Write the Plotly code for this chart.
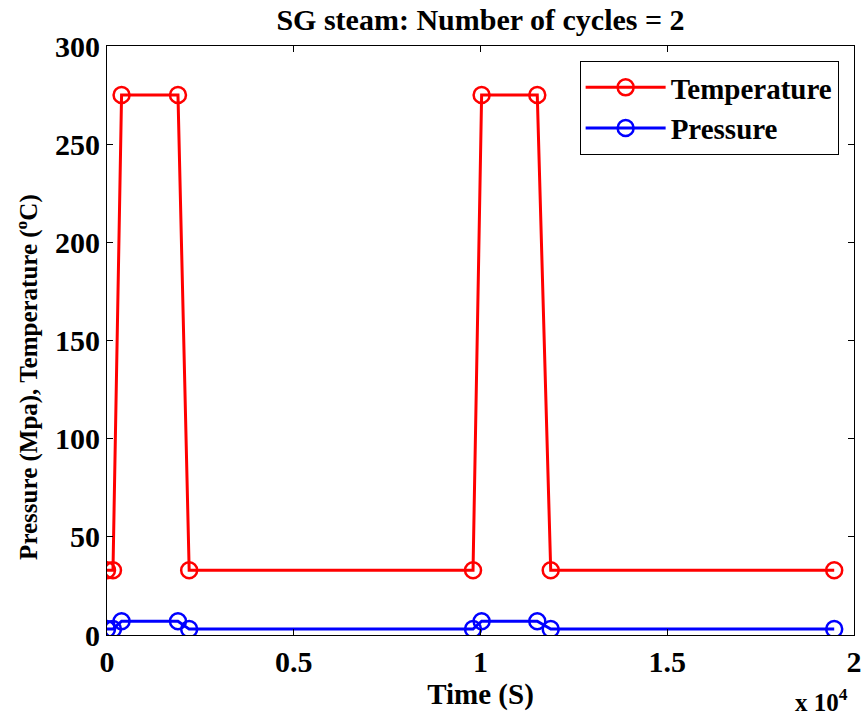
import plotly.graph_objects as go

time_s = [0, 160, 390, 1900, 2200, 9800, 10030, 11520, 11880, 19470]
temperature = [33, 33, 275, 275, 33, 33, 275, 275, 33, 33]
pressure = [3, 3, 7, 7, 3, 3, 7, 7, 3, 3]
x_tickvals = [0, 5000, 10000, 15000, 20000]
x_ticktext = ["0", "0.5", "1", "1.5", "2"]
y_tickvals = [0, 50, 100, 150, 200, 250, 300]

FONT = "Liberation Serif, Times New Roman, serif"

fig = go.Figure()
fig.add_trace(go.Scatter(
    x=time_s, y=temperature, name="<b>Temperature</b>", mode="lines+markers",
    line=dict(color="#ff0000", width=3),
    marker=dict(symbol="circle-open", size=16, color="#ff0000", line=dict(width=2.5, color="#ff0000")),
))
fig.add_trace(go.Scatter(
    x=time_s, y=pressure, name="<b>Pressure</b>", mode="lines+markers",
    line=dict(color="#0000ff", width=3),
    marker=dict(symbol="circle-open", size=16, color="#0000ff", line=dict(width=2.5, color="#0000ff")),
))

axis_common = dict(
    showgrid=False, zeroline=False, showline=True, linecolor="black", linewidth=1,
    mirror="ticks", ticks="inside", ticklen=6, tickcolor="black", automargin=False,
    tickfont=dict(family=FONT, size=30, color="black"),
)

fig.update_layout(
    width=862, height=715,
    margin=dict(l=107, r=8, t=46, b=80),
    paper_bgcolor="white", plot_bgcolor="white",
    font=dict(family=FONT, color="black"),
    title=dict(text="<b>SG steam: Number of cycles = 2</b>", x=0.5, xref="paper", xanchor="center",
               y=1 - 19/715, yanchor="middle", font=dict(family=FONT, size=30, color="black")),
    xaxis=dict(range=[0, 20000], tickvals=x_tickvals, ticktext=[f"<b>{t}</b>" for t in x_ticktext],
               title=dict(text="<b>Time (S)</b>", font=dict(family=FONT, size=29, color="black"), standoff=6),
               **axis_common),
    yaxis=dict(range=[0, 300], tickvals=y_tickvals,
               ticktext=[f"<b>{v}</b>" for v in y_tickvals],
               **axis_common),
    legend=dict(x=(579 - 107) / 746, y=(635 - 61) / 589, xanchor="left", yanchor="top",
                bordercolor="black", borderwidth=1, bgcolor="white",
                font=dict(family=FONT, size=29, color="black"), itemwidth=80,
                tracegroupgap=0),
    showlegend=True,
)

fig.add_annotation(text="<b>Pressure (Mpa), Temperature (<sup>o</sup>C)</b>", textangle=-90,
                   xref="paper", yref="paper", x=(27 - 107) / 746, y=(635 - 377) / 589,
                   xanchor="center", yanchor="middle", showarrow=False,
                   font=dict(family=FONT, size=25, color="black"))

fig.add_annotation(text="<b>x 10<sup>4</sup></b>", xref="paper", yref="paper",
                   x=0.995, y=-0.08, xanchor="right", yanchor="top", showarrow=False,
                   font=dict(family=FONT, size=25, color="black"))

fig.write_html("out.html")
